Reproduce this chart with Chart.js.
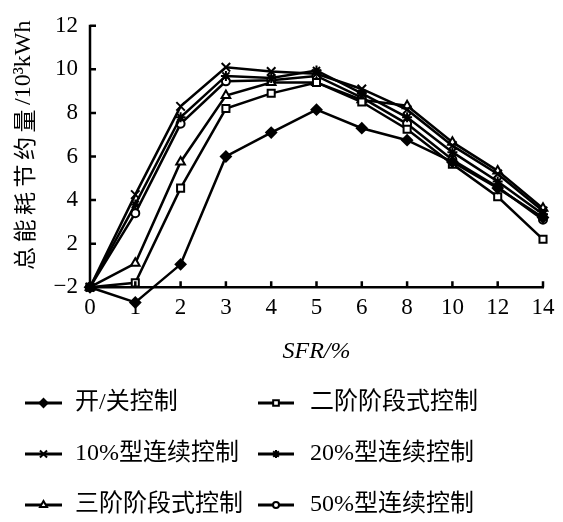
<!DOCTYPE html>
<html>
<head>
<meta charset="utf-8">
<script src="https://cdn.jsdelivr.net/npm/chart.js@4.4.0/dist/chart.umd.min.js"></script>
<style>
  html, body { margin: 0; padding: 0; background: #fff; }
</style>
</head>
<body>
<canvas id="chart" width="563" height="522"></canvas>
<script>
// SFR categories (x axis, equally spaced)
const sfrLabels = ['0', '1', '2', '3', '4', '5', '6', '8', '10', '12', '14'];

// Savings values (bottom axis line = 0, labelled "-2" in the original)
const onOffValues      = [0, -0.7, 1.05, 6.0, 7.1, 8.15, 7.3, 6.75, 5.75, 4.55, 3.2];
const twoStageValues   = [0, 0.2, 4.55, 8.2, 8.9, 9.4, 8.5, 7.25, 5.65, 4.15, 2.2];
const cont10Values     = [0, 4.25, 8.3, 10.1, 9.9, 9.8, 9.1, 8.15, 6.5, 5.2, 3.5];
const cont20Values     = [0, 3.8, 7.8, 9.7, 9.6, 9.95, 8.9, 7.8, 6.2, 4.85, 3.35];
const threeStageValues = [0, 1.1, 5.75, 8.8, 9.4, 9.4, 8.6, 8.33, 6.66, 5.34, 3.62];
const cont50Values     = [0, 3.4, 7.5, 9.45, 9.5, 9.7, 8.7, 7.5, 5.85, 4.6, 3.1];

const yTicks = [0, 2, 4, 6, 8, 10, 12];
const yTickText = ['\u22122', '2', '4', '6', '8', '10', '12'];

function series(label, data, style, filled, radius) {
  return {
    label: label,
    data: data,
    borderColor: '#000',
    borderWidth: 2.5,
    pointStyle: style,
    pointRadius: radius,
    pointBorderWidth: 2,
    pointBorderColor: '#000',
    pointBackgroundColor: filled ? '#000' : '#fff',
    tension: 0,
    clip: false
  };
}

// Axis lines stop at the zero line; ticks point inward; x labels and y title drawn by hand
const axesAndTitle = {
  id: 'axesAndTitle',
  afterDraw(chart) {
    const ctx = chart.ctx;
    const x = chart.scales.x, y = chart.scales.y;
    const zeroY = y.getPixelForValue(0);
    const topY = y.getPixelForValue(12);
    ctx.save();
    ctx.strokeStyle = '#000';
    ctx.lineWidth = 2.5;
    ctx.beginPath();
    ctx.moveTo(x.left, topY - 1);
    ctx.lineTo(x.left, zeroY + 1);
    ctx.moveTo(x.left - 1, zeroY);
    ctx.lineTo(x.right + 1, zeroY);
    y.ticks.forEach((t, i) => {
      const py = y.getPixelForTick(i);
      ctx.moveTo(x.left, py);
      ctx.lineTo(x.left + 6, py);
    });
    x.ticks.forEach((t, i) => {
      const px = x.getPixelForTick(i);
      ctx.moveTo(px, zeroY);
      ctx.lineTo(px, zeroY - 6);
    });
    ctx.stroke();

    // x tick labels just under the zero line
    ctx.fillStyle = '#000';
    ctx.font = '23px "Liberation Serif"';
    ctx.textAlign = 'center';
    ctx.textBaseline = 'middle';
    sfrLabels.forEach((lab, i) => {
      ctx.fillText(lab, x.getPixelForTick(i), zeroY + 21);
    });

    // y axis title, reading bottom to top
    ctx.textAlign = 'left';
    ctx.translate(24, 270);
    ctx.rotate(-Math.PI / 2);
    ctx.font = '23px "Noto Sans CJK SC"';
    ctx.letterSpacing = '4.5px';
    const cjk = '总能耗节约量';
    ctx.fillText(cjk, 0, 0);
    const w = ctx.measureText(cjk).width;
    ctx.letterSpacing = '0px';
    ctx.font = '24px "Liberation Serif"';
    ctx.fillText('/10³kWh', w, 0);
    ctx.restore();
  }
};

// Two-column legend under the axis title
const gridLegend = {
  id: 'gridLegend',
  afterDraw(chart) {
    const ctx = chart.ctx;
    const rowsY = [403, 454, 505];
    const cols = [{ x0: 25, x1: 62, tx: 75 }, { x0: 258, x1: 294, tx: 310 }];
    ctx.save();
    chart.data.datasets.forEach((ds, i) => {
      const row = Math.floor(i / 2), col = cols[i % 2];
      const yy = rowsY[row];
      ctx.strokeStyle = '#000';
      ctx.lineWidth = 3;
      ctx.beginPath();
      ctx.moveTo(col.x0, yy);
      ctx.lineTo(col.x1, yy);
      ctx.stroke();
      ctx.fillStyle = ds.pointBackgroundColor;
      ctx.strokeStyle = '#000';
      ctx.lineWidth = 2;
      Chart.helpers.drawPoint(ctx, {
        pointStyle: ds.pointStyle,
        radius: ds.pointRadius - 1,
        borderWidth: 2,
        rotation: 0
      }, (col.x0 + col.x1) / 2, yy);
      ctx.fillStyle = '#000';
      ctx.font = '24px "Liberation Serif", "Noto Sans CJK SC"';
      ctx.textBaseline = 'middle';
      ctx.fillText(ds.label, col.tx, yy);
    });
    ctx.restore();
  }
};

new Chart(document.getElementById('chart'), {
  type: 'line',
  data: {
    labels: sfrLabels,
    datasets: [
      series('开/关控制', onOffValues, 'rectRot', true, 5),
      series('二阶阶段式控制', twoStageValues, 'rect', false, 5),
      series('10%型连续控制', cont10Values, 'crossRot', false, 6),
      series('20%型连续控制', cont20Values, 'star', true, 5),
      series('三阶阶段式控制', threeStageValues, 'triangle', false, 5),
      series('50%型连续控制', cont50Values, 'circle', false, 4)
    ]
  },
  options: {
    responsive: false,
    animation: false,
    events: [],
    layout: { padding: { top: 22, right: 20, left: 0, bottom: 156 } },
    plugins: {
      legend: { display: false },
      tooltip: { enabled: false }
    },
    scales: {
      x: {
        type: 'category',
        offset: false,
        grid: { display: false, drawTicks: false },
        border: { display: false },
        ticks: { display: false, autoSkip: false },
        title: {
          display: true,
          text: 'SFR/%',
          color: '#000',
          padding: { top: 0, bottom: 0 },
          font: { family: '"Liberation Serif"', size: 24, style: 'italic' }
        },
        afterFit(scale) { scale.height = 57; }
      },
      y: {
        min: -1,
        max: 12,
        grid: { display: false, drawTicks: false },
        border: { display: false },
        afterBuildTicks(scale) {
          scale.ticks = yTicks.map(v => ({ value: v }));
        },
        ticks: {
          color: '#000',
          padding: 12,
          font: { family: '"Liberation Serif"', size: 23 },
          callback: function(value) {
            const i = yTicks.indexOf(value);
            return i >= 0 ? yTickText[i] : '';
          }
        },
        afterFit(scale) { scale.width = 90; }
      }
    }
  },
  plugins: [axesAndTitle, gridLegend]
});
</script>
</body>
</html>
